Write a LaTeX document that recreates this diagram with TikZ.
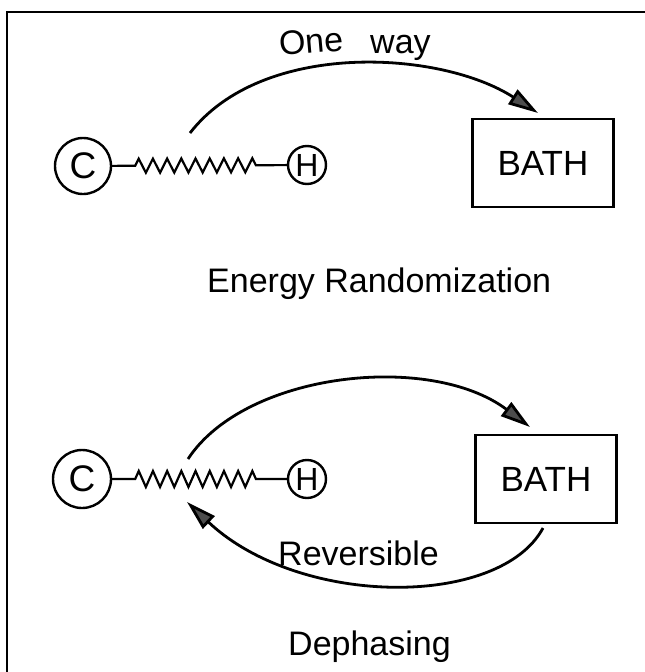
\documentclass[tikz,border=0pt]{standalone}
\usepackage{fontspec}
\setmainfont{Liberation Sans}
\usetikzlibrary{arrows.meta,decorations.pathmorphing}

\tikzset{
  lettering/.style={font=\fontsize{34}{40}\selectfont, inner sep=0pt},
  atom/.style={circle, draw, line width=2.4pt, inner sep=0pt},
  bathbox/.style={draw, line width=2.6pt, minimum width=141pt, minimum height=88pt,
                  inner sep=0pt, font=\fontsize{35}{40}\selectfont},
  bond/.style={line width=2.2pt, decorate,
               decoration={zigzag, segment length=14.2pt, amplitude=7pt,
                           pre length=23pt, post length=25pt}},
  flow/.style={line width=2.8pt,
               -{Triangle[length=30pt, width=17pt, fill=black!70]}},
}

\begin{document}
\begin{tikzpicture}[x=1pt, y=-1pt]
\useasboundingbox (0,0) rectangle (645,672);

% frame (top and left rules)
\draw[line width=2pt] (7,672) -- (7,12) -- (645,12);

% ---------- energy randomization ----------
\node[atom, minimum size=56pt, font=\fontsize{37}{40}\selectfont] (c1) at (83,166) {C};
\node[atom, minimum size=38pt, font=\fontsize{32}{36}\selectfont] (h1) at (307,165) {H};
\draw[bond] (c1) -- (h1);
\node[bathbox] (bath1) at (543,163) {BATH};

\coordinate (s1) at (190,133);
\coordinate (t1) at (538,113);
\draw[flow] (s1) .. controls (262,40) and (440,50) .. (t1);

\node[lettering, anchor=base west, rotate=5] (one) at (280,56) {One};
\node[lettering, anchor=base west] (way) at (370,53) {way};

\node[lettering, anchor=base west] (lab1) at (207,292) {Energy Randomization};

% ---------- dephasing ----------
\node[atom, minimum size=58pt, font=\fontsize{37}{40}\selectfont] (c2) at (82,479) {C};
\node[atom, minimum size=38pt, font=\fontsize{32}{36}\selectfont] (h2) at (307,479) {H};
\draw[bond, decoration={amplitude=8pt}] (c2) -- (h2);
\node[bathbox] (bath2) at (546,479) {BATH};

\coordinate (s2) at (188,459);
\coordinate (t2) at (530,427);
\draw[flow] (s2) .. controls (245,372) and (430,352) .. (t2);

\coordinate (s3) at (543,528);
\coordinate (t3) at (187,502);
\draw[flow] (s3) .. controls (500,608) and (300,608) .. (t3);

\node[lettering, anchor=base west] (rev) at (278,565) {Reversible};

\node[lettering, anchor=base west] (lab2) at (288,655) {Dephasing};
\end{tikzpicture}
\end{document}
